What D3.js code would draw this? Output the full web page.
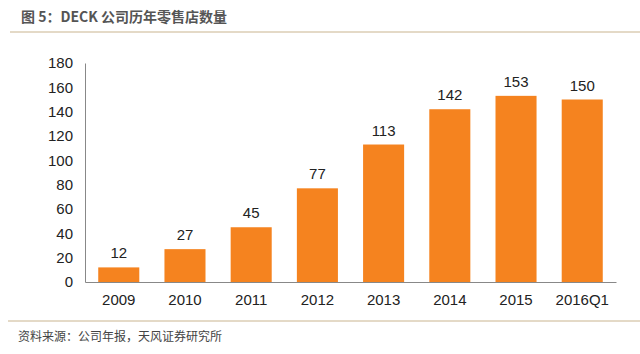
<!DOCTYPE html>
<html>
<head>
<meta charset="utf-8">
<script src="https://cdn.jsdelivr.net/npm/d3@7"></script>
<style>
  body { margin: 0; background: #fff; }
  text { font-family: "Liberation Sans", Arial, sans-serif; }
  .cjk { font-family: "Noto Sans CJK SC", sans-serif; }
</style>
</head>
<body>
<div id="main"></div>
<script>
var width = 640,
    height = 354;

var categories = ["2009", "2010", "2011", "2012", "2013", "2014", "2015", "2016Q1"];
var stores = [12, 27, 45, 77, 113, 142, 153, 150];
var yTicks = [0, 20, 40, 60, 80, 100, 120, 140, 160, 180];

var title = "图 5：DECK 公司历年零售店数量";
var source = "资料来源：公司年报，天风证券研究所";

var margin = {left: 85, right: 24, top: 63, bottom: 72};

var svg = d3.select("#main").append("svg")
    .attr("width", width)
    .attr("height", height);

// header
svg.append("text")
    .attr("class", "cjk")
    .attr("x", 21)
    .attr("y", 22)
    .attr("font-size", 14)
    .attr("font-weight", "bold")
    .attr("fill", "#555")
    .text(title);

svg.append("line")
    .attr("x1", 10).attr("x2", 640)
    .attr("y1", 32).attr("y2", 32)
    .attr("stroke", "#c9b48f")
    .attr("stroke-width", 1);

// footer
svg.append("line")
    .attr("x1", 8).attr("x2", 640)
    .attr("y1", 321).attr("y2", 321)
    .attr("stroke", "#c9b48f")
    .attr("stroke-width", 1);

svg.append("text")
    .attr("class", "cjk")
    .attr("x", 18)
    .attr("y", 341)
    .attr("font-size", 12)
    .attr("fill", "#444")
    .text(source);

var x = d3.scaleBand()
    .domain(categories)
    .range([margin.left, width - margin.right])
    .paddingInner(0.38)
    .paddingOuter(0.2);

var y = d3.scaleLinear()
    .domain([0, 180])
    .range([height - margin.bottom, margin.top]);

var yAxis = svg.append("g")
    .attr("transform", `translate(${margin.left},0)`)
    .call(d3.axisLeft(y).tickValues(yTicks).tickSize(0).tickPadding(12));

var xAxis = svg.append("g")
    .attr("transform", `translate(0,${height - margin.bottom})`)
    .call(d3.axisBottom(x).tickSize(0).tickPadding(12));

[xAxis, yAxis].forEach(function(g) {
    g.select(".domain").attr("stroke", "#888");
    g.selectAll("text")
        .attr("font-size", 15)
        .attr("fill", "#222")
        .attr("font-family", "'Liberation Sans', Arial, sans-serif");
});

svg.selectAll(".bar")
    .data(stores)
    .enter().append("rect")
    .attr("class", "bar")
    .attr("x", function(d, i) { return x(categories[i]); })
    .attr("y", function(d) { return y(d); })
    .attr("width", x.bandwidth())
    .attr("height", function(d) { return y(0) - y(d); })
    .attr("fill", "#f5831f");

svg.selectAll(".lbl")
    .data(stores)
    .enter().append("text")
    .attr("class", "lbl")
    .attr("x", function(d, i) { return x(categories[i]) + x.bandwidth() / 2; })
    .attr("y", function(d) { return y(d) - 9; })
    .attr("text-anchor", "middle")
    .attr("font-size", 15)
    .attr("fill", "#222")
    .text(function(d) { return d; });
</script>
</body>
</html>
